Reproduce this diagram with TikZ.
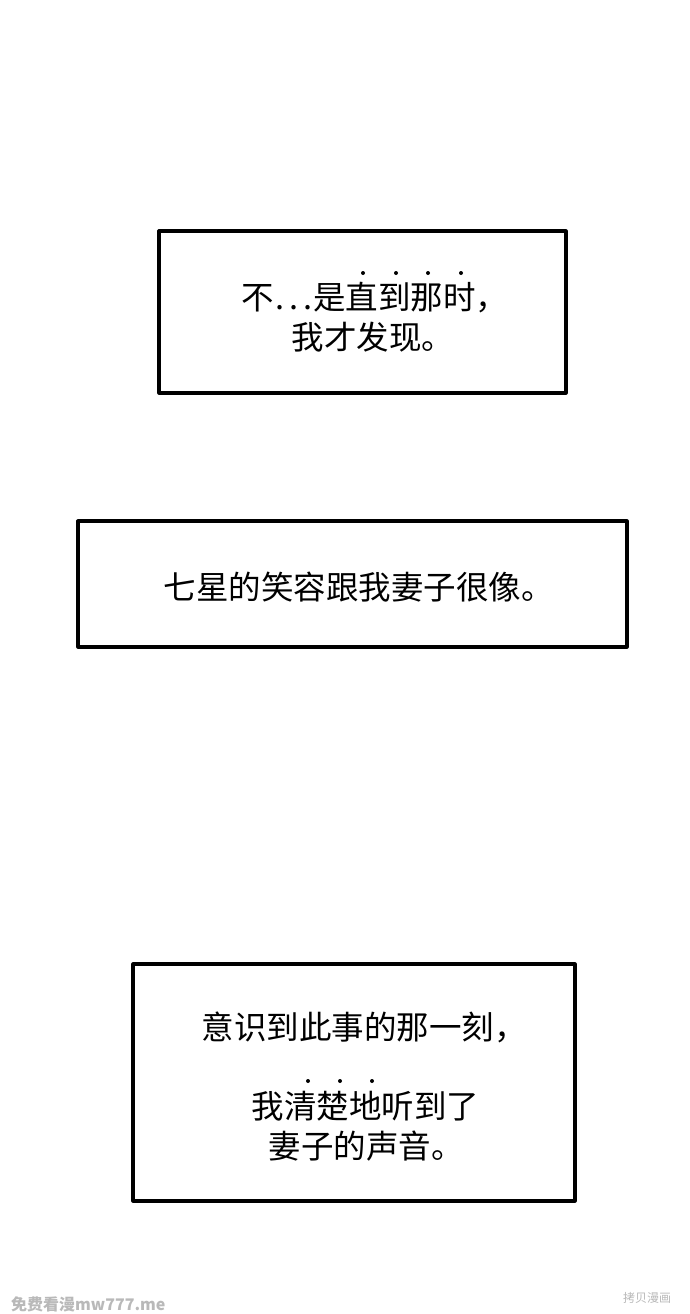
\documentclass[tikz,border=0pt]{standalone}
\usepackage{fontspec}
\usetikzlibrary{positioning}
\newfontfamily\cjk{Noto Sans CJK SC}
\newcommand{\myPanel}[2]{%%
  %% Draw the caption box.
  \draw[lineStyle] (#1) -- (#1 -| #2) -- (#2) -- (#2 -| #1) -- cycle;
}
\newcommand{\myDots}[2]{%%
  %% Emphasis dots above the text.
  \foreach \x in {#1} {\fill[dotStyle] (\x,#2) circle (2);}
}
\newcommand{\myEllipsis}{\kern1pt.\kern5pt.\kern5pt.\kern1pt}

\begin{document}
\begin{tikzpicture}[%%
  x=1pt,y=-1pt,
  lineStyle/.style={-,line width=3.2pt,line join=round},
  textStyle/.style={inner sep=0pt,anchor=west,font=\cjk\fontsize{32.5}{36}\selectfont},
  dotStyle/.style={fill=black},
  markStyle/.style={inner sep=0pt,anchor=west,text=gray!55}
]
%%
\useasboundingbox[fill=white] (0,0) rectangle (690,1314);
%%
%% Corners of the caption boxes.
\coordinate (topA) at (159,231);
\coordinate (topB) at (566,393);
\coordinate (midA) at (78,521);
\coordinate (midB) at (627,647);
\coordinate (lowA) at (133,964);
\coordinate (lowB) at (575,1201);
%%
%% The first box.
\myPanel{topA}{topB}
\node[textStyle] (topLineA) at (241.5,298) {不\myEllipsis 是直到那时，};
\node[textStyle] (topLineB) at (291.5,337) {我才发现。};
\myDots{363,396,428,461}{273}
%%
%% The second box.
\myPanel{midA}{midB}
\node[textStyle] (midLine) at (163.5,587) {七星的笑容跟我妻子很像。};
%%
%% The third box.
\myPanel{lowA}{lowB}
\node[textStyle] (lowLineA) at (201.5,1027) {意识到此事的那一刻，};
\node[textStyle] (lowLineB) at (251.5,1106) {我清楚地听到了};
\node[textStyle] (lowLineC) at (268.5,1146) {妻子的声音。};
\myDots{308,340,372}{1081}
%%
%% Marks at the foot.
\node[markStyle,font=\cjk\bfseries\fontsize{16}{18}\selectfont] (markLeft) at (11,1304) {免费看漫mw777.me};
\node[markStyle,font=\cjk\fontsize{12}{14}\selectfont] (markRight) at (623,1298) {拷贝漫画};
\end{tikzpicture}
\end{document}
